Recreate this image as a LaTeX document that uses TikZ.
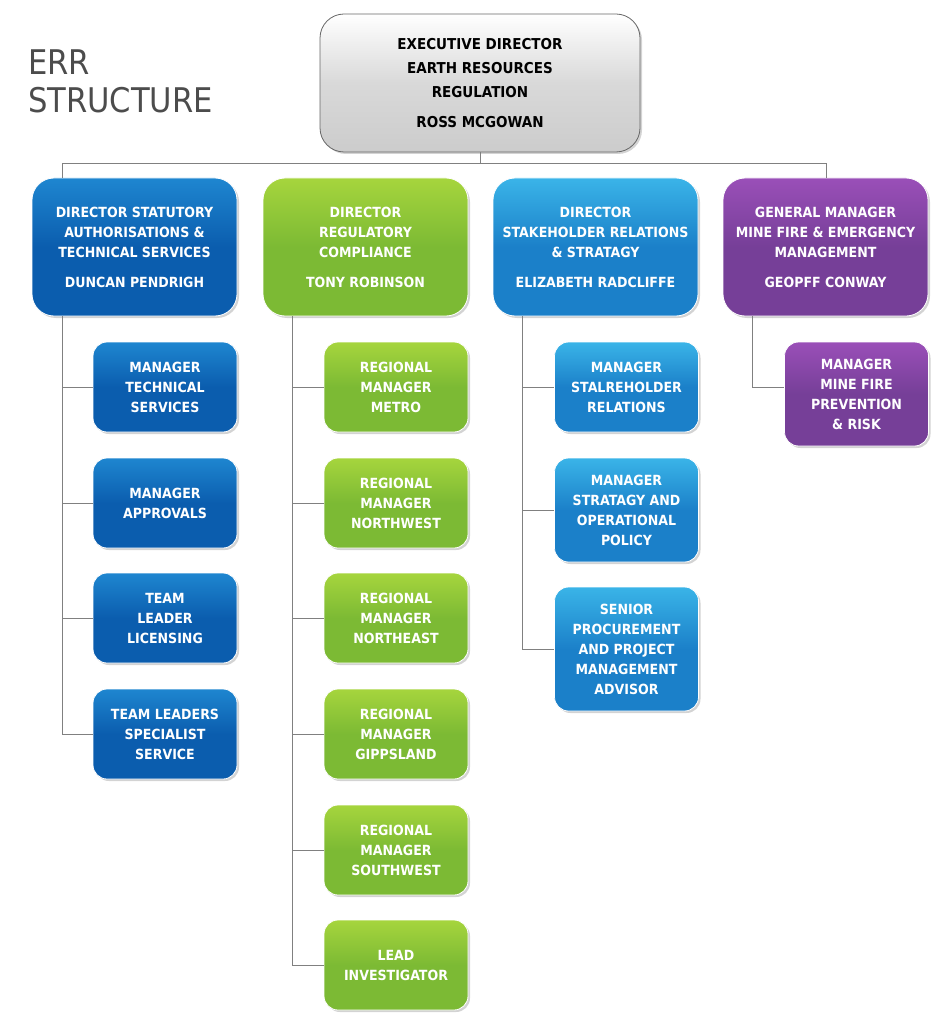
\documentclass[tikz,border=0pt]{standalone}
\usepackage{fontspec}
\setmainfont{DejaVu Sans Condensed}
\usetikzlibrary{shadows}
\definecolor{dblue}{HTML}{0B5DAE}
\definecolor{dblueT}{HTML}{1E86D0}
\definecolor{green}{HTML}{7CBA34}
\definecolor{greenT}{HTML}{A6D53D}
\definecolor{lblue}{HTML}{1B80C9}
\definecolor{lblueT}{HTML}{3AB4E8}
\definecolor{purp}{HTML}{763F98}
\definecolor{purpT}{HTML}{9A4FB8}
\definecolor{lin}{HTML}{808080}
\begin{document}
\begin{tikzpicture}[x=1pt,y=-1pt,
 box/.style={rounded corners=14pt,draw=white,line width=0.8pt,drop shadow={shadow xshift=2pt,shadow yshift=-2pt,opacity=0.35},font=\bfseries\fontsize{14}{20}\selectfont,text=white,align=center,inner sep=0pt},
 db/.style={box,top color=dblueT,bottom color=dblue,middle color=dblue},
 gr/.style={box,top color=greenT,bottom color=green,middle color=green},
 lb/.style={box,top color=lblueT,bottom color=lblue,middle color=lblue},
 pu/.style={box,top color=purpT,bottom color=purp,middle color=purp},
 ln/.style={draw=lin,line width=0.8pt}]
\useasboundingbox (0,0) rectangle (944,1024);
\node[anchor=north west,font=\fontsize{34}{38}\selectfont,text=black!70,align=left,inner sep=0pt] (title) at (28,50) {ERR\\STRUCTURE};
\node[box,draw=black!60,top color=white,bottom color=black!20,middle color=black!15,text=black,minimum width=320pt,minimum height=138pt,rounded corners=24pt,font=\bfseries\fontsize{15}{24}\selectfont] (ed) at (480,83) {EXECUTIVE DIRECTOR\\EARTH RESOURCES\\REGULATION\\[6pt]ROSS MCGOWAN};
\tikzset{dir/.style={minimum width=205pt,minimum height=138pt,rounded corners=22pt},
 sub/.style={minimum width=144pt}}
\node[db,dir] (d1) at (134.5,247) {DIRECTOR STATUTORY\\AUTHORISATIONS \&\\TECHNICAL SERVICES\\[10pt]DUNCAN PENDRIGH};
\node[gr,dir] (d2) at (365.5,247) {DIRECTOR\\REGULATORY\\COMPLIANCE\\[10pt]TONY ROBINSON};
\node[lb,dir] (d3) at (595.5,247) {DIRECTOR\\STAKEHOLDER RELATIONS\\\& STRATAGY\\[10pt]ELIZABETH RADCLIFFE};
\node[pu,dir] (d4) at (825.5,247) {GENERAL MANAGER\\MINE FIRE \& EMERGENCY\\MANAGEMENT\\[10pt]GEOPFF CONWAY};
\coordinate (bl) at (62,163); \coordinate (br) at (826,163);
\draw[ln] (ed.south) -- (ed.south|-bl);
\draw[ln] (d1.north-|bl) -- (bl) -- (br) -- (d4.north-|br);
% column 1
\foreach \n/\y/\t in {1/387/{MANAGER\\TECHNICAL\\SERVICES},2/503/{MANAGER\\APPROVALS},3/618/{TEAM\\LEADER\\LICENSING},4/734/{TEAM LEADERS\\SPECIALIST\\SERVICE}}
 {\node[db,sub,minimum height=90pt] (a\n) at (165,\y) {\t};
  \coordinate (ca\n) at (62,\y);
  \draw[ln] (ca\n) -- (a\n.west);}
\draw[ln] (d1.south-|ca1) -- (ca4);
% column 2
\foreach \n/\y/\t in {1/387/{REGIONAL\\MANAGER\\METRO},2/503/{REGIONAL\\MANAGER\\NORTHWEST},3/618/{REGIONAL\\MANAGER\\NORTHEAST},4/734/{REGIONAL\\MANAGER\\GIPPSLAND},5/850/{REGIONAL\\MANAGER\\SOUTHWEST},6/965/{LEAD\\INVESTIGATOR}}
 {\node[gr,sub,minimum height=90pt] (b\n) at (396,\y) {\t};
  \coordinate (cb\n) at (292,\y);
  \draw[ln] (cb\n) -- (b\n.west);}
\draw[ln] (d2.south-|cb1) -- (cb6);
% column 3
\node[lb,sub,minimum height=90pt] (c1) at (626.5,387) {MANAGER\\STALREHOLDER\\RELATIONS};
\node[lb,sub,minimum height=104pt] (c2) at (626.5,510) {MANAGER\\STRATAGY AND\\OPERATIONAL\\POLICY};
\node[lb,sub,minimum height=124pt] (c3) at (626.5,649) {SENIOR\\PROCUREMENT\\AND PROJECT\\MANAGEMENT\\ADVISOR};
\foreach \n in {1,2,3}{\coordinate (cc\n) at (522,0|-c\n.west); \draw[ln] (cc\n) -- (c\n.west);}
\draw[ln] (d3.south-|cc1) -- (cc3);
% column 4
\node[pu,sub,minimum height=104pt] (e1) at (856.5,394) {MANAGER\\MINE FIRE\\PREVENTION\\\& RISK};
\coordinate (ce1) at (752,387);
\draw[ln] (d4.south-|ce1) -- (ce1) -- (ce1-|e1.west);
\end{tikzpicture}
\end{document}
